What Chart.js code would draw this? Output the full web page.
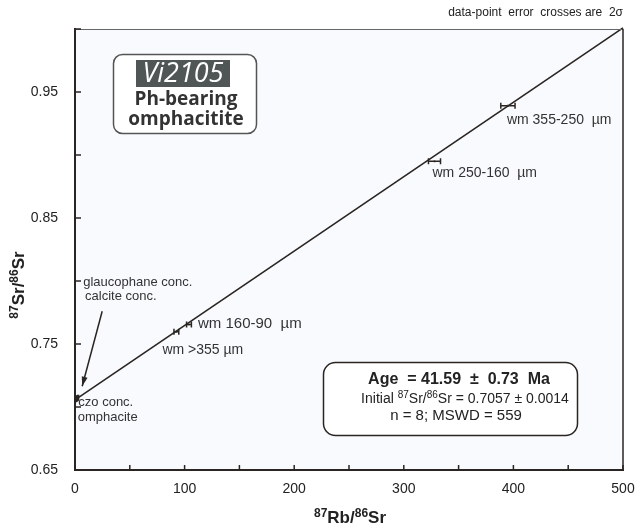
<!DOCTYPE html>
<html>
<head>
<meta charset="utf-8">
<script src="https://cdn.jsdelivr.net/npm/chart.js@4/dist/chart.umd.min.js"></script>
<style>
  html, body { margin: 0; padding: 0; background: #fff; }
  #wrap { width: 638px; height: 528px; }
</style>
</head>
<body>
<div id="wrap"><canvas id="myChart" width="638" height="528"></canvas></div>
<script>
// samples
const samples = ['omphacite', 'czo conc.', 'glaucophane conc.', 'calcite conc.', 'wm >355 µm', 'wm 160-90  µm', 'wm 250-160  µm', 'wm 355-250  µm'];
const rbSr = [0.6, 1.2, 2.0, 2.8, 92.5, 104, 328, 395];
const srSr = [0.7061, 0.7064, 0.7069, 0.7074, 0.7598, 0.7655, 0.8950, 0.9390];
const rbErr = [0.5, 0.5, 0.5, 0.5, 2.2, 2.2, 5.5, 6.5];
const srErr = [0.0008, 0.0008, 0.0008, 0.0008, 0.0008, 0.0008, 0.0008, 0.0008];

// isochron end points
const isoX = [0, 500];
const isoY = [0.7057, 1.0009];

const xTicks = [0, 100, 200, 300, 400, 500];
const yTicks = [0.65, 0.75, 0.85, 0.95];

const FONT = '"Liberation Sans", Arial, sans-serif';
const INK = '#2a2522';

// draw text with superscript pieces: parts = [[text, isSup], ...]
const richWidth = (ctx, parts, size, weight) => {
    let w = 0;
    parts.forEach(([t, sup]) => {
        ctx.font = `${weight} ${sup ? Math.round(size * 0.68) : size}px ${FONT}`;
        w += ctx.measureText(t).width;
    });
    return w;
};
const richText = (ctx, parts, cx, y, size, weight) => {
    let x = cx - richWidth(ctx, parts, size, weight) / 2;
    ctx.textAlign = 'left';
    ctx.textBaseline = 'alphabetic';
    parts.forEach(([t, sup]) => {
        ctx.font = `${weight} ${sup ? Math.round(size * 0.68) : size}px ${FONT}`;
        ctx.fillText(t, x, sup ? y - size * 0.38 : y);
        x += ctx.measureText(t).width;
    });
};
const roundRect = (ctx, x, y, w, h, r) => {
    ctx.beginPath();
    ctx.moveTo(x + r, y);
    ctx.arcTo(x + w, y, x + w, y + h, r);
    ctx.arcTo(x + w, y + h, x, y + h, r);
    ctx.arcTo(x, y + h, x, y, r);
    ctx.arcTo(x, y, x + w, y, r);
    ctx.closePath();
};

const decor = {
    id: 'decor',
    beforeDraw(chart) {
        const { ctx, chartArea: a } = chart;
        ctx.save();
        ctx.fillStyle = '#f8fafd';
        ctx.fillRect(a.left, a.top, a.right - a.left, a.bottom - a.top);
        ctx.restore();
    },
    afterDatasetsDraw(chart) {
        const { ctx, chartArea: a, scales: { x, y } } = chart;
        ctx.save();

        // frame
        ctx.strokeStyle = '#666';
        ctx.lineWidth = 1;
        ctx.beginPath();
        ctx.moveTo(a.left, a.top + 0.5);
        ctx.lineTo(a.right, a.top + 0.5);
        ctx.stroke();
        ctx.strokeStyle = INK;
        ctx.lineWidth = 1.5;
        ctx.beginPath();
        ctx.moveTo(a.right, a.top);
        ctx.lineTo(a.right, a.bottom);
        ctx.stroke();

        // inward ticks
        ctx.lineWidth = 1.5;
        x.ticks.forEach(t => {
            const px = x.getPixelForValue(t.value);
            ctx.beginPath();
            ctx.moveTo(px, a.bottom);
            ctx.lineTo(px, a.bottom - 5);
            ctx.stroke();
        });
        y.ticks.forEach(t => {
            const py = y.getPixelForValue(t.value);
            ctx.beginPath();
            ctx.moveTo(a.left, py);
            ctx.lineTo(a.left + 6, py);
            ctx.stroke();
        });

        // error crosses
        ctx.strokeStyle = INK;
        ctx.lineWidth = 1.5;
        rbSr.forEach((v, i) => {
            const px = x.getPixelForValue(v);
            const py = y.getPixelForValue(srSr[i]);
            const x0 = x.getPixelForValue(v - rbErr[i]);
            const x1 = x.getPixelForValue(v + rbErr[i]);
            const y0 = y.getPixelForValue(srSr[i] - srErr[i]);
            const y1 = y.getPixelForValue(srSr[i] + srErr[i]);
            ctx.beginPath();
            ctx.moveTo(x0, py); ctx.lineTo(x1, py);
            ctx.moveTo(x0, py - 3); ctx.lineTo(x0, py + 3);
            ctx.moveTo(x1, py - 3); ctx.lineTo(x1, py + 3);
            ctx.moveTo(px, y0); ctx.lineTo(px, y1);
            ctx.stroke();
        });

        // point labels
        ctx.fillStyle = '#333';
        ctx.textAlign = 'left';
        ctx.textBaseline = 'middle';
        const at = i => [x.getPixelForValue(rbSr[i]), y.getPixelForValue(srSr[i])];
        const label = (i, dx, dy, size) => {
            const [px, py] = at(i);
            ctx.font = `${size}px ${FONT}`;
            ctx.fillText(samples[i], px + dx, py + dy);
        };
        label(7, -1, 14, 14);
        label(6, -2, 12, 14);
        label(5, 9, -1, 15);
        label(4, -14, 18, 14);
        label(1, 2, 3, 13);
        label(0, 2, 18, 13);
        label(2, 6, -116, 13);
        label(3, 7, -101, 13);

        // arrow to the low-Rb cluster
        const [ax, ay] = at(2);
        const tx = ax + 5, ty = ay - 12;
        const sx = ax + 25, sy = ay - 87;
        ctx.strokeStyle = INK;
        ctx.fillStyle = INK;
        ctx.lineWidth = 1.5;
        ctx.beginPath();
        ctx.moveTo(sx, sy);
        ctx.lineTo(tx, ty);
        ctx.stroke();
        const ang = Math.atan2(ty - sy, tx - sx);
        ctx.beginPath();
        ctx.moveTo(tx, ty);
        ctx.lineTo(tx - 10 * Math.cos(ang - 0.3), ty - 10 * Math.sin(ang - 0.3));
        ctx.lineTo(tx - 10 * Math.cos(ang + 0.3), ty - 10 * Math.sin(ang + 0.3));
        ctx.closePath();
        ctx.fill();

        // sample box
        roundRect(ctx, 113.5, 54.5, 143, 79, 9);
        ctx.fillStyle = '#fff';
        ctx.fill();
        ctx.strokeStyle = '#555';
        ctx.lineWidth = 1.5;
        ctx.stroke();
        ctx.fillStyle = '#4f5655';
        ctx.fillRect(136, 60, 94, 27);
        ctx.textAlign = 'center';
        ctx.textBaseline = 'middle';
        ctx.fillStyle = '#fff';
        ctx.font = 'italic 27px "Open Sans", sans-serif';
        ctx.fillText('Vi2105', 183, 74);
        ctx.fillStyle = '#333';
        ctx.font = 'bold 19px "Open Sans", sans-serif';
        ctx.fillText('Ph-bearing', 186, 100);
        ctx.fillText('omphacitite', 186, 120);

        // result box
        roundRect(ctx, 323.5, 362.5, 254, 73, 12);
        ctx.fillStyle = '#fff';
        ctx.fill();
        ctx.strokeStyle = INK;
        ctx.lineWidth = 1.5;
        ctx.stroke();
        ctx.fillStyle = '#222';
        richText(ctx, [['Age  = 41.59  ±  0.73  Ma', false]], 459, 384, 16, 'bold');
        richText(ctx, [['Initial ', false], ['87', true], ['Sr/', false], ['86', true], ['Sr = 0.7057 ± 0.0014', false]], 465, 403, 14, 'normal');
        richText(ctx, [['n = 8; MSWD = 559', false]], 456, 420, 15, 'normal');

        // note and axis titles
        ctx.fillStyle = '#222';
        ctx.font = `12px ${FONT}`;
        ctx.textAlign = 'right';
        ctx.textBaseline = 'middle';
        ctx.fillText('data-point  error  crosses are  2σ', 623, 13);

        richText(ctx, [['87', true], ['Rb/', false], ['86', true], ['Sr', false]], 350, 523, 17, 'bold');
        ctx.translate(24, 285);
        ctx.rotate(-Math.PI / 2);
        richText(ctx, [['87', true], ['Sr/', false], ['86', true], ['Sr', false]], 0, 0, 17, 'bold');
        ctx.restore();
    }
};

const ctx = document.getElementById('myChart');
new Chart(ctx, {
    type: 'scatter',
    data: {
        datasets: [{
            label: 'isochron',
            data: isoX.map((v, i) => ({ x: v, y: isoY[i] })),
            showLine: true,
            borderColor: INK,
            borderWidth: 1.6,
            pointRadius: 0,
            clip: false,
        }, {
            label: 'samples',
            data: rbSr.map((v, i) => ({ x: v, y: srSr[i] })),
            pointRadius: 0,
        }]
    },
    options: {
        responsive: false,
        animation: false,
        events: [],
        layout: { padding: { top: 29, right: 15, left: 0, bottom: 0 } },
        plugins: { legend: { display: false }, tooltip: { enabled: false } },
        scales: {
            x: {
                type: 'linear',
                min: 0,
                max: 500,
                afterFit: s => { s.height = 58; s.paddingLeft = 0; s.paddingRight = 0; },
                ticks: {
                    stepSize: 50,
                    padding: 11,
                    color: '#222',
                    font: { size: 14, family: FONT },
                    callback: v => xTicks.includes(v) ? String(v) : ''
                },
                grid: { drawOnChartArea: false, drawTicks: false },
                border: { color: INK, width: 2 }
            },
            y: {
                type: 'linear',
                min: 0.65,
                max: 1.0,
                afterFit: s => { s.width = 75; s.paddingTop = 0; s.paddingBottom = 0; },
                ticks: {
                    stepSize: 0.05,
                    padding: 17,
                    color: '#222',
                    font: { size: 14, family: FONT },
                    callback: v => yTicks.some(t => Math.abs(t - v) < 1e-6) ? v.toFixed(2) : ''
                },
                grid: { drawOnChartArea: false, drawTicks: false },
                border: { color: INK, width: 2 }
            }
        }
    },
    plugins: [decor]
});
</script>
</body>
</html>
